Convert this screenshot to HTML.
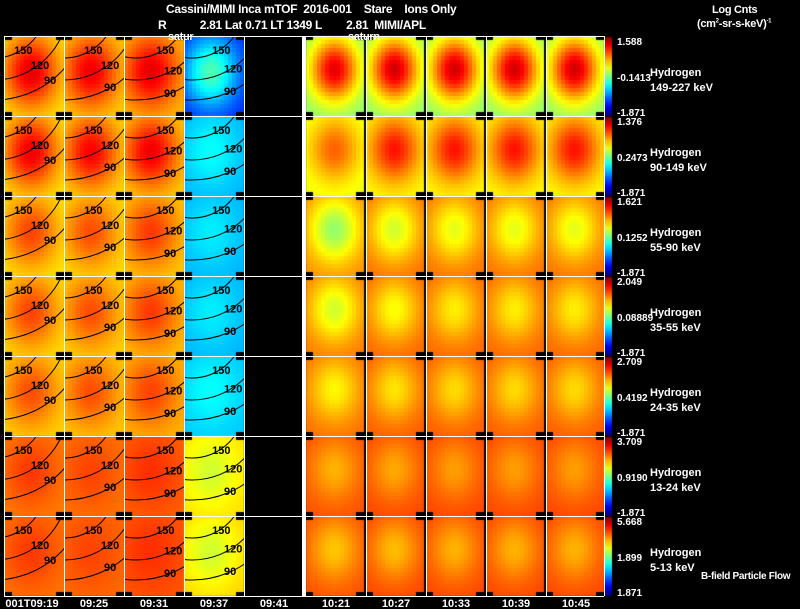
<!DOCTYPE html>
<html><head><meta charset="utf-8">
<style>
html,body{margin:0;padding:0;background:#000;}
#wrap{position:relative;width:800px;height:609px;overflow:hidden;background:#000;font-family:"Liberation Sans",sans-serif;color:#fff;}
canvas,svg{position:absolute;left:0;top:0;}
.t{position:absolute;white-space:pre;font-size:12px;font-weight:bold;letter-spacing:-0.3px;}
</style></head>
<body>
<div id="wrap">
<canvas id="cv" width="800" height="609"></canvas>
<svg id="sv" width="800" height="609"></svg>
<div class="t" style="left:166px;top:2px;">Cassini/MIMI Inca mTOF  2016-001    Stare    Ions Only</div>
<div class="t" style="left:158px;top:18px;">R           2.81 Lat 0.71 LT 1349 L        2.81  MIMI/APL</div>
<div class="t" style="left:168px;top:31px;font-size:11px;">satur</div>
<div class="t" style="left:348px;top:31px;font-size:11px;">saturn</div>
<div class="t" style="left:712px;top:4px;font-size:11px;">Log Cnts</div>
<div class="t" style="left:697px;top:18px;font-size:11px;">(cm<sup style="font-size:6px">2</sup>-sr-s-keV)<sup style="font-size:6px">-1</sup></div>
<div class="t" style="left:701px;top:571px;font-size:10px;">B-field Particle Flow</div>
</div>
<script>
const energies=["149-227 keV","90-149 keV","55-90 keV","35-55 keV","24-35 keV","13-24 keV","5-13 keV"];
const cbMax=["1.588","1.376","1.621","2.049","2.709","3.709","5.668"];
const cbMid=["-0.1413","0.2473","0.1252","0.08889","0.4192","0.9190","1.899"];
const cbMin=["-1.871","-1.871","-1.871","-1.871","-1.871","-1.871","1.871"];
const timeLabels=["001T09:19","09:25","09:31","09:37","09:41","10:21","10:27","10:33","10:39","10:45"];
const rightCenter=[[0.90,0.92,0.92,0.92,0.92],[0.78,0.86,0.86,0.86,0.86],[0.52,0.58,0.60,0.60,0.60],[0.58,0.62,0.64,0.64,0.64],[0.63,0.65,0.66,0.66,0.66],[0.70,0.71,0.72,0.72,0.72],[0.68,0.69,0.70,0.70,0.70]];
const rightEdge=[[0.50,0.50,0.50,0.50,0.50],[0.60,0.62,0.62,0.62,0.62],[0.74,0.77,0.77,0.77,0.77],[0.76,0.78,0.78,0.78,0.78],[0.77,0.79,0.79,0.79,0.79],[0.80,0.81,0.81,0.81,0.81],[0.80,0.81,0.81,0.81,0.81]];
const leftCenter=[[0.90,0.89,0.90,0.45,null],[0.89,0.88,0.89,0.38,null],[0.81,0.80,0.82,0.36,null],[0.81,0.80,0.82,0.36,null],[0.80,0.80,0.81,0.38,null],[0.82,0.81,0.83,0.58,null],[0.82,0.81,0.83,0.58,null]];
const leftEdge=[[0.64,0.66,0.68,0.15,null],[0.64,0.65,0.66,0.30,null],[0.64,0.65,0.67,0.30,null],[0.65,0.66,0.68,0.30,null],[0.66,0.67,0.69,0.32,null],[0.75,0.76,0.78,0.66,null],[0.76,0.77,0.79,0.67,null]];

const leftX=[4,64,124,184,244], rightX=[306,366,426,486,546];
const rowY=r=>36+r*80;
function jet(t){t=Math.max(0,Math.min(1,t));
 const r=Math.max(0,Math.min(1,1.5-Math.abs(4*t-3))),g=Math.max(0,Math.min(1,1.5-Math.abs(4*t-2))),b=Math.max(0,Math.min(1,1.5-Math.abs(4*t-1)));
 return `rgb(${Math.round(r*255)},${Math.round(g*255)},${Math.round(b*255)})`;}
const ctx=document.getElementById('cv').getContext('2d');
function panel(x0,y0,w,c,e,cx,cy,sx,sy){
 const nx=15,ny=20,bw=w/nx,bh=80/ny;
 for(let j=0;j<ny;j++)for(let i=0;i<nx;i++){
  const corner=(i<2||i>=nx-2)&&(j<1||j>=ny-1);
  if(corner)continue;
  const u=(i+0.5)/nx-cx,v=(j+0.5)/ny-cy;
  const val=e+(c-e)*Math.exp(-(u*u/(sx*sx)+v*v/(sy*sy)));
  ctx.fillStyle=jet(val);
  ctx.fillRect(Math.floor(x0+i*bw),Math.floor(y0+j*bh),Math.ceil(bw),Math.ceil(bh));
 }}
for(let r=0;r<7;r++){
 for(let c=0;c<5;c++){
  if(leftCenter[r][c]!==null)panel(leftX[c],rowY(r),60,leftCenter[r][c],leftEdge[r][c],0.45,0.45,0.45,0.45);
  panel(rightX[c],rowY(r),58,rightCenter[r][c],rightEdge[r][c],0.5,0.42,0.42,0.4);
 }
 const y=rowY(r),g=ctx.createLinearGradient(0,y+1,0,y+79);
 for(let k=0;k<=10;k++)g.addColorStop(k/10,jet(1-k/10));
 ctx.fillStyle=g;ctx.fillRect(604,y+1,8,79);
}
const NS='http://www.w3.org/2000/svg',sv=document.getElementById('sv');
function mk(tag,at){const el=document.createElementNS(NS,tag);for(const k in at)el.setAttribute(k,at[k]);sv.appendChild(el);return el;}
for(let r=0;r<=7;r++){
 const l=mk('line',{x1:4,x2:604,y1:rowY(r)+0.5,y2:rowY(r)+0.5,stroke:'#fff','stroke-width':1});
 
 
}
[4,64,124,184,244,366,426,486,546,604].forEach(x=>{
 const l=mk('line',{x1:x+0.5,x2:x+0.5,y1:36,y2:596,stroke:'#fff','stroke-width':1});
 
 
});
const big=mk('rect',{x:302,y:36,width:4,height:561,fill:'#fff'});


const contourLabels=["150","120","90"], radii=[52,74,94], shiftX=[0,10,22,18];
for(let r=0;r<7;r++)for(let c=0;c<4;c++){
 const ox=leftX[c]-10+shiftX[c],oy=rowY(r)-30;
 const cp=document.createElementNS(NS,'clipPath');cp.setAttribute('id',`cp${r}_${c}`);
 const cr=document.createElementNS(NS,'rect');cr.setAttribute('x',leftX[c]+1);cr.setAttribute('y',rowY(r)+1);cr.setAttribute('width',59);cr.setAttribute('height',79);
 cp.appendChild(cr);sv.appendChild(cp);
 for(let k=0;k<3;k++){
  const ci=mk('circle',{cx:ox,cy:oy,r:radii[k],fill:'none',stroke:'#000','stroke-width':1,'clip-path':`url(#cp${r}_${c})`});
  
  
  const a=1.0-k*0.08;
  let lx=ox+radii[k]*Math.cos(a)-8;
  lx=Math.min(lx,leftX[c]+40);
  const ly=oy+Math.sqrt(Math.max(0,radii[k]*radii[k]-(lx+8-ox)*(lx+8-ox)))+4;
  const tx=mk('text',{x:lx,y:ly,'font-size':11,'font-weight':'bold',fill:'#000','font-family':'Liberation Sans','clip-path':`url(#cp${r}_${c})`});
  tx.textContent=contourLabels[k];
  
  
 }
}
const T=(x,y,s,name,size,anchor)=>{const t=mk('text',{x:x,y:y,'font-size':size||11,'font-weight':'bold',fill:'#fff','font-family':'Liberation Sans','text-anchor':anchor||'start'});t.textContent=s;
 
 
 return t;};
for(let r=0;r<7;r++){
 const y=rowY(r);
 T(617,y+9,cbMax[r],'colorbar-max',10);
 T(617,y+45,cbMid[r],'colorbar-mid',10);
 T(617,y+80,cbMin[r],'colorbar-min',10);
 T(650,y+40,'Hydrogen','species-label',11);
 T(650,y+55,energies[r],'energy-label',11);
}
const tx=[32,94,154,214,274,336,396,456,516,576];
timeLabels.forEach((s,i)=>T(tx[i],607,s,'time-label',11,'middle'));
</script>
</body></html>
